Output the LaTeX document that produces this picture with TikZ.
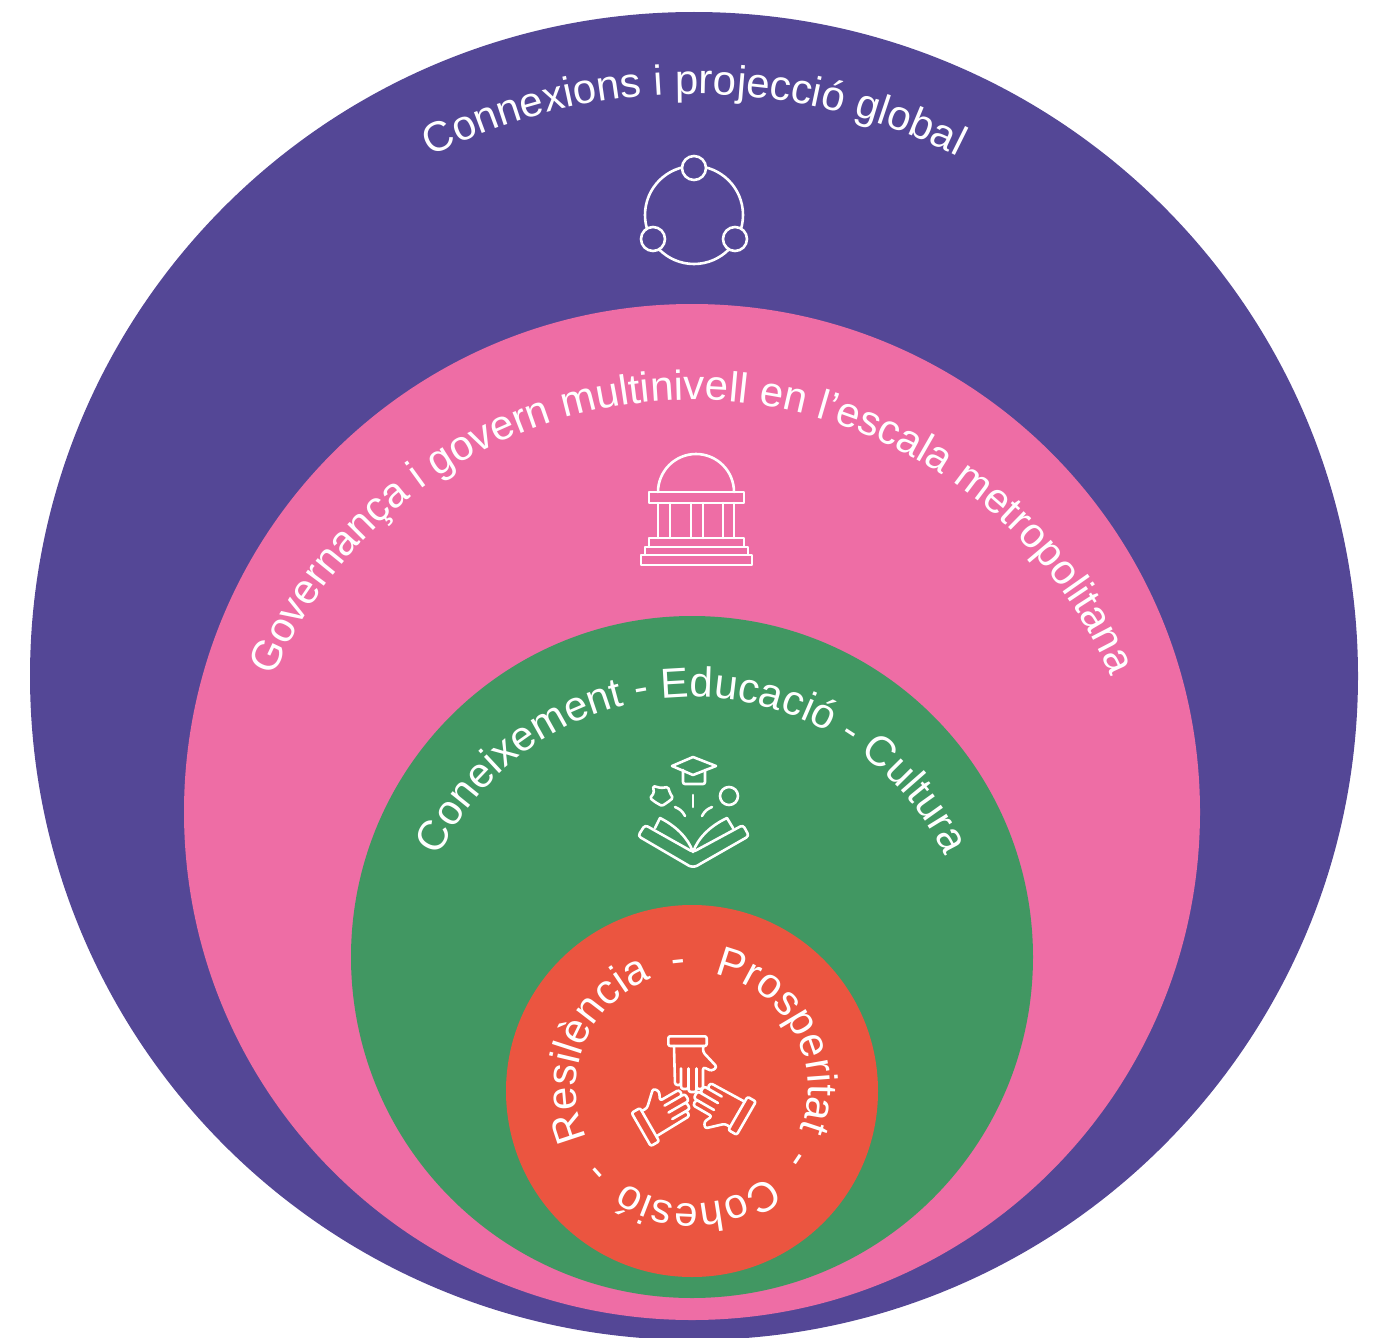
\documentclass[tikz,border=0pt]{standalone}
\usepackage{fontspec}
\setmainfont{Liberation Sans}
\usetikzlibrary{decorations.text}
\definecolor{cpurple}{HTML}{544796}
\definecolor{cpink}{HTML}{EE6DA5}
\definecolor{cgreen}{HTML}{419762}
\definecolor{cred}{HTML}{EB5540}
\newcommand{\arcfont}{\fontsize{42}{42}\selectfont\color{white}}
\newcommand{\arclabel}[5]{% centre, radius, start, end, text
  \path[decorate,decoration={text along path,text align=center,
    text={|\arcfont|#5}}]
    (#1) ++(#3:#2) arc[start angle=#3,end angle=#4,radius=#2];}
\tikzset{
  disc/.style={circle,inner sep=0pt,outer sep=0pt,minimum size=#1},
  icon/.style={draw=white,line width=2.6pt,line join=round,line cap=round},
}
\begin{document}
\begin{tikzpicture}[x=1pt,y=-1pt]
\useasboundingbox (0,0) rectangle (1374,1338);
\node[disc=1328pt,fill=cpurple] (outer) at (694,676) {};
\node[disc=1016pt,fill=cpink] (pinkc) at (692,812) {};
\node[disc=682pt,fill=cgreen] (greenc) at (692,957) {};
\node[disc=372pt,fill=cred] (redc) at (692,1091) {};
% arc text
\coordinate (t1) at (694,678);
\arclabel{t1}{584}{-170}{-10}{Connexions i projecció global}
\coordinate (t2) at (692,855);
\arclabel{t2}{455}{-200}{20}{Governança i govern multinivell en l’escala metropolitana}
\coordinate (t3) at (692,977);
\arclabel{t3}{280}{-200}{20}{Coneixement - Educació - Cultura}
\coordinate (t4) at (692,1088);
\arclabel{t4}{116}{-228}{-88}{Resilència}
\arclabel{t4}{116}{-116}{-76}{-}
\arclabel{t4}{116}{-99}{41}{Prosperitat}
\arclabel{t4}{116}{14}{54}{-}
\arclabel{t4}{116}{47}{127}{Cohesió}
\arclabel{t4}{116}{118}{158}{-}
% icon 1
\draw[icon] (694,215) circle[radius=49];
\foreach \nm/\px/\py in {na/694/168,nb/653/239,nc/735/239}
  \node[disc=24pt,draw=white,line width=2.6pt,fill=cpurple] (\nm) at (\px,\py) {};
% icon 2
\draw[icon] (658,492) arc[start angle=180,end angle=360,radius=38];
\draw[icon] (649,492) rectangle (744,503);
\foreach \xa in {658,670,691,703,723,734} \draw[icon] (\xa,503) -- (\xa,538);
\draw[icon] (649,538) rectangle (744,547);
\draw[icon] (645,547) rectangle (748,555);
\draw[icon] (641,555) rectangle (752,565);
% icon 3
\draw[icon] (672,766) -- (693,757) -- (716,766) -- (693,775) -- cycle;
\draw[icon,rounded corners=2pt] (683,770) -- (683,784) -- (705,784) -- (705,770);
\draw[icon,rounded corners=1.5pt] (653,786) -- (661,788) -- (668,787) -- (670,793) -- (673,798) -- (668,802) -- (662,806) -- (655,802) -- (650,798) -- (654,793) -- cycle;
\draw[icon] (729,796) circle[radius=9];
\draw[icon] (693,795) -- (693,807);
\draw[icon] (675,807) to[bend left=20] (685,816);
\draw[icon] (712,807) to[bend right=20] (702,816);
\draw[icon] (693,852) .. controls (688,838) and (676,826) .. (660,818) -- (655,828);
\draw[icon] (693,852) .. controls (698,838) and (710,826) .. (727,818) -- (733,828);
\draw[icon,rounded corners=3pt] (693,852) -- (645,825) -- (638,836) -- (686,864) .. controls (691,867) and (695,867) .. (700,864) -- (749,836) -- (743,825) -- cycle;
% icon 4
\foreach \ang/\cx/\cy in {0/694/1097,120/690.5/1093.5,-120/690.5/1093.5}{
  \begin{scope}[shift={(\cx,\cy)},rotate=\ang]
    \draw[icon,rounded corners=2pt] (-25.7,-60.7) rectangle (12.7,-51);
    \draw[icon,rounded corners=2.5pt] (-20,-51) -- (-19,-12) -- (-13,-12) -- (-13,-30) -- (-13,-8) -- (-5.5,-8) -- (-5.5,-30) -- (-5.5,-5) -- (2.5,-5) -- (2.5,-30) -- (2.5,-8) -- (9,-8) -- (9,-30) -- (17.7,-26) -- (23,-30) -- (9,-45) -- (9.3,-51);
  \end{scope}
}
\end{tikzpicture}
\end{document}
